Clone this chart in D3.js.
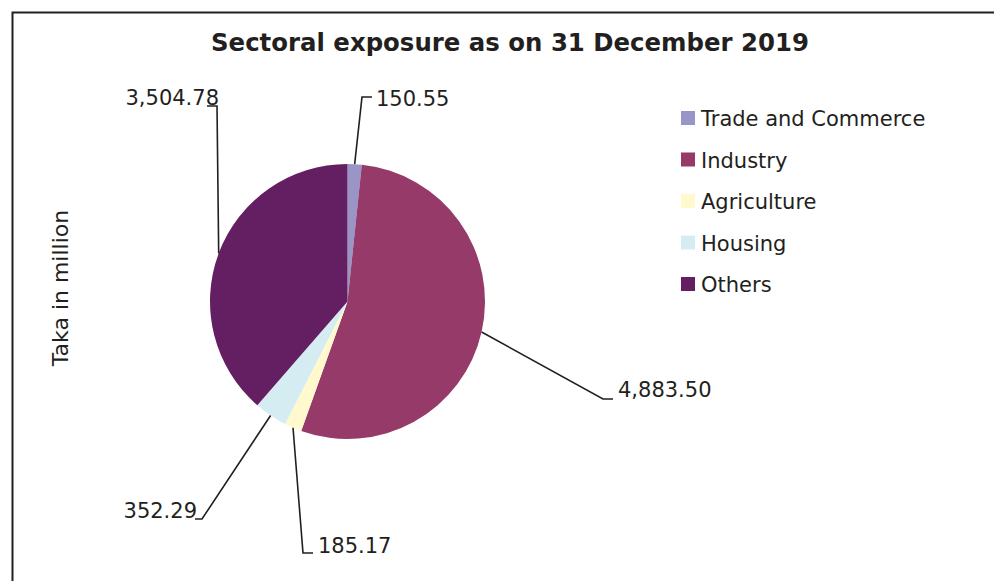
<!DOCTYPE html>
<html>
<head>
<meta charset="utf-8">
<script src="https://cdn.jsdelivr.net/npm/d3@7"></script>
<style>
	body { margin: 0; background: #fff; overflow: hidden; }
	svg { display: block; }
	text { font-family: "DejaVu Sans", sans-serif; fill: #231f20; }
</style>
</head>
<body>
<div id="chart"></div>
<script>
	var categories = ["Trade and Commerce", "Industry", "Agriculture", "Housing", "Others"],
		values = [150.55, 4883.50, 185.17, 352.29, 3504.78],
		colors = ["#9a95c7", "#963a69", "#fff9cd", "#d5edf2", "#631f61"];

	// where each leader line bends, and where its label sits
	var elbows = [[362, 97, 372], [603, 399, 613], [303, 553, 313], [202, 519, 195], [217, 106, 207]],
		labelPos = [[376, 99, "start"], [618, 390, "start"], [318, 546, "start"], [197, 511, "end"], [219, 98, "end"]];

	var width = 994,
		height = 581,
		cx = 347.5,
		cy = 301.5,
		radius = 137.5,
		fmt = d3.format(",.2f");

	var svg = d3.select("#chart").append("svg")
		.attr("width", width)
		.attr("height", height);

	// frame (only left and top edges are visible)
	svg.append("path")
		.attr("d", "M12.5," + height + "V12.5H" + width)
		.attr("fill", "none")
		.attr("stroke", "#231f20")
		.attr("stroke-width", 2);

	svg.append("text")
		.attr("x", 510)
		.attr("y", 42)
		.attr("text-anchor", "middle")
		.attr("dominant-baseline", "central")
		.attr("font-weight", "bold")
		.attr("font-size", 24.4)
		.text("Sectoral exposure as on 31 December 2019");

	svg.append("text")
		.attr("transform", "translate(60,288) rotate(-90)")
		.attr("text-anchor", "middle")
		.attr("dominant-baseline", "central")
		.attr("font-size", 22)
		.text("Taka in million");

	var pie = d3.pie().sort(null).value(function (d) { return d; }),
		arcs = pie(values),
		arc = d3.arc().innerRadius(0).outerRadius(radius),
		edge = d3.arc().innerRadius(radius).outerRadius(radius);

	var g = svg.append("g").attr("transform", "translate(" + cx + "," + cy + ")");

	g.selectAll("path.slice")
		.data(arcs).enter().append("path")
		.attr("class", "slice")
		.attr("d", arc)
		.attr("fill", function (d, i) { return colors[i]; });

	// leader lines
	svg.selectAll("path.leader")
		.data(arcs).enter().append("path")
		.attr("class", "leader")
		.attr("fill", "none")
		.attr("stroke", "#231f20")
		.attr("stroke-width", 1.6)
		.attr("d", function (d, i) {
			var c = edge.centroid(d), e = elbows[i];
			return "M" + (cx + c[0]) + "," + (cy + c[1]) + "L" + e[0] + "," + e[1] + "H" + e[2];
		});

	svg.selectAll("text.value")
		.data(arcs).enter().append("text")
		.attr("class", "value")
		.attr("x", function (d, i) { return labelPos[i][0]; })
		.attr("y", function (d, i) { return labelPos[i][1]; })
		.attr("text-anchor", function (d, i) { return labelPos[i][2]; })
		.attr("dominant-baseline", "central")
		.attr("font-size", 21)
		.text(function (d) { return fmt(d.value); });

	var legend = svg.selectAll("g.legend")
		.data(categories).enter().append("g")
		.attr("class", "legend")
		.attr("transform", function (d, i) { return "translate(681," + (118 + i * 41.5) + ")"; });

	legend.append("rect")
		.attr("x", 0).attr("y", -7)
		.attr("width", 14).attr("height", 14)
		.attr("fill", function (d, i) { return colors[i]; });

	legend.append("text")
		.attr("x", 20)
		.attr("y", 1)
		.attr("dominant-baseline", "central")
		.attr("font-size", 21)
		.text(function (d) { return d; });
</script>
</body>
</html>
